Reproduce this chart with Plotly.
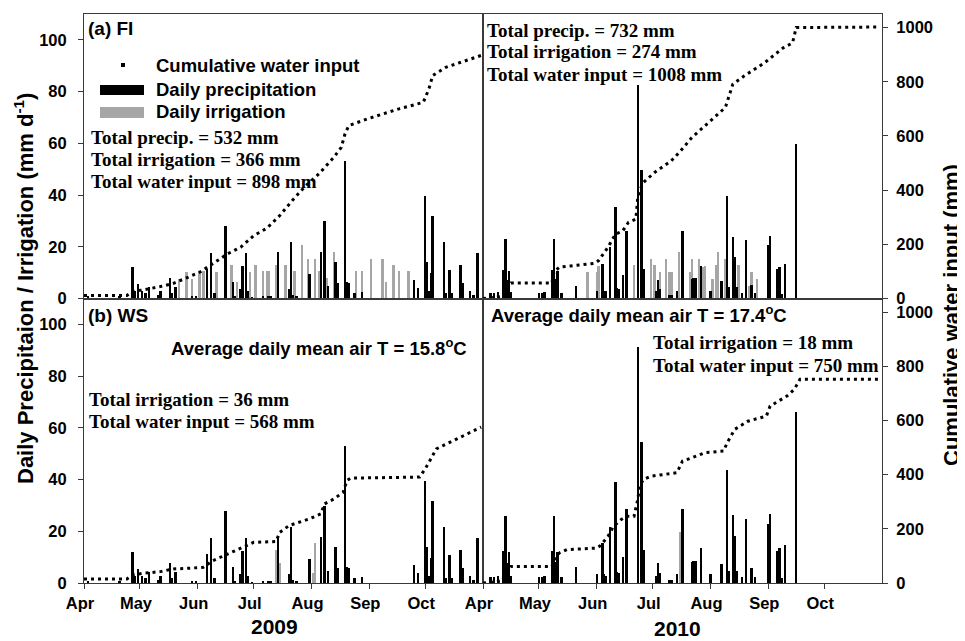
import plotly.graph_objects as go

# ---------------- data ----------------
precip_2009_dates = ["2009-04-03", "2009-04-20", "2009-04-27", "2009-04-28", "2009-04-30", "2009-05-02",
                     "2009-05-04", "2009-05-06", "2009-05-11", "2009-05-12", "2009-05-17", "2009-05-18",
                     "2009-05-20", "2009-05-29", "2009-05-31", "2009-06-06", "2009-06-08", "2009-06-10",
                     "2009-06-16", "2009-06-20", "2009-06-21", "2009-06-24", "2009-06-25", "2009-06-27",
                     "2009-06-28", "2009-06-30", "2009-07-06", "2009-07-09", "2009-07-10", "2009-07-14",
                     "2009-07-20", "2009-07-21", "2009-07-22", "2009-07-24", "2009-07-31", "2009-08-06",
                     "2009-08-08", "2009-08-10", "2009-08-14", "2009-08-15", "2009-08-19", "2009-08-20",
                     "2009-08-21", "2009-08-24", "2009-08-28", "2009-09-25", "2009-09-27", "2009-10-01",
                     "2009-10-02", "2009-10-03", "2009-10-04", "2009-10-05", "2009-10-11", "2009-10-12",
                     "2009-10-14", "2009-10-15", "2009-10-20", "2009-10-21", "2009-10-25", "2009-10-27",
                     "2009-10-29"]
precip_2009_mm = [1, 1, 12, 3, 5.5, 3,
                  2, 4.3, 1.5, 3, 8, 2,
                  4.3, 1, 1, 11.5, 17.5, 2,
                  28, 6.5, 1, 3.5, 12.5, 17.5,
                  3, 0.5, 1, 1, 1, 18,
                  3.5, 22, 1.5, 1, 9.5, 18,
                  30, 5, 14, 6, 53, 6.5,
                  6, 2.3, 2.5, 7, 4, 39.5,
                  14, 3, 10, 32, 22, 2,
                  11, 2, 12.8, 6, 3, 1.5,
                  17.5]

irr_fi_2009_dates = ["2009-05-22", "2009-05-26", "2009-05-29", "2009-06-02", "2009-06-04", "2009-06-11",
                     "2009-06-19", "2009-06-22", "2009-06-29", "2009-07-02", "2009-07-06", "2009-07-08",
                     "2009-07-09", "2009-07-13", "2009-07-18", "2009-07-23", "2009-07-27", "2009-07-30",
                     "2009-08-03", "2009-08-05", "2009-08-09", "2009-08-13", "2009-08-25", "2009-08-28",
                     "2009-09-02", "2009-09-08", "2009-09-10", "2009-09-14", "2009-09-17", "2009-09-22"]
irr_fi_2009_mm = [7.6, 10.2, 7.6, 10.2, 10.5, 10.2,
                  12.8, 6.3, 10.2, 12.8, 10.5, 10.5,
                  10.5, 12.8, 12.8, 10.5, 20.5, 15.4,
                  15.4, 10.5, 8, 18, 10.5, 10.5,
                  15.4, 15.4, 6.3, 12.8, 10.5, 10.5]

irr_ws_2009_dates = ["2009-07-13", "2009-07-15", "2009-08-02", "2009-08-03"]
irr_ws_2009_mm = [13, 8, 4, 15.5]

precip_2010_dates = ["2010-04-05", "2010-04-07", "2010-04-09", "2010-04-12", "2010-04-13", "2010-04-14",
                     "2010-04-15", "2010-04-16", "2010-05-01", "2010-05-03", "2010-05-04", "2010-05-08",
                     "2010-05-09", "2010-05-10", "2010-05-11", "2010-05-13", "2010-05-21", "2010-06-01",
                     "2010-06-04", "2010-06-05", "2010-06-06", "2010-06-08", "2010-06-11", "2010-06-12",
                     "2010-06-13", "2010-06-15", "2010-06-17", "2010-06-23", "2010-06-25", "2010-06-26",
                     "2010-07-03", "2010-07-04", "2010-07-05", "2010-07-10", "2010-07-11", "2010-07-14",
                     "2010-07-17", "2010-07-22", "2010-07-23", "2010-07-24", "2010-07-27", "2010-08-01",
                     "2010-08-07", "2010-08-10", "2010-08-11", "2010-08-13", "2010-08-14", "2010-08-15",
                     "2010-08-18", "2010-08-20", "2010-08-23", "2010-08-25", "2010-09-01", "2010-09-02",
                     "2010-09-06", "2010-09-07", "2010-09-08", "2010-09-10", "2010-09-16"]
precip_fi_2010_mm = [2, 2, 2.5, 11, 23, 7,
                     10.7, 2.5, 2, 2, 2.5, 11,
                     23, 7.5, 10.5, 2, 4.9, 3,
                     13.5, 3, 2.8, 20, 35.3, 4,
                     3.5, 9, 26.2, 82.4, 49.5, 11.5,
                     2.8, 7, 3.5, 1.3, 1.3, 3,
                     26.2, 7.5, 7.8, 7.8, 12.5, 3,
                     6.6, 39.8, 4.5, 23.6, 16.2, 4.5,
                     2.2, 22.5, 5.3, 2.2, 20.8, 24.2,
                     11.3, 12.3, 1.8, 13.3, 59.8]
precip_ws_2010_mm = [2.5, 2.5, 3, 12.5, 26, 8,
                     12, 3, 2.5, 2.5, 3, 12.5,
                     26, 8.5, 12, 2.5, 6.3, 3.5,
                     15.5, 3.5, 3, 22, 39.3, 4.5,
                     4, 10.3, 29, 91.5, 54.8, 12.9,
                     3, 8, 4, 1.5, 1.5, 3.5,
                     29, 8.4, 8.7, 8.7, 13.9, 3.5,
                     7.4, 44, 5, 26.4, 18.3, 5,
                     2.5, 24.8, 6, 2.5, 22.9, 26.8,
                     12.6, 13.9, 2, 14.8, 66.4]

irr_fi_2010_dates = ["2010-05-27", "2010-06-01", "2010-06-02", "2010-06-21", "2010-06-30", "2010-07-02",
                     "2010-07-05", "2010-07-08", "2010-07-10", "2010-07-11", "2010-07-15", "2010-07-21",
                     "2010-07-22", "2010-07-26", "2010-07-28", "2010-07-29", "2010-08-02", "2010-08-04",
                     "2010-08-05", "2010-08-09", "2010-08-16", "2010-08-22", "2010-08-23", "2010-08-26"]
irr_fi_2010_mm = [10.3, 10.3, 12.5, 12.8, 15.4, 12.8,
                  10.3, 15.4, 10.3, 10.3, 18, 10.3,
                  15.4, 15.4, 12, 12.7, 7.7, 12.8,
                  18, 15.4, 12.8, 5, 10.3, 7.7]

irr_ws_2010_dates = ["2010-07-16"]
irr_ws_2010_mm = [20]

cum_fi_2009_dates = ["2009-04-01", "2009-04-24", "2009-04-27", "2009-05-03", "2009-05-12", "2009-05-19",
                     "2009-05-26", "2009-06-02", "2009-06-09", "2009-06-17", "2009-06-24", "2009-07-01",
                     "2009-07-08", "2009-07-15", "2009-07-22", "2009-07-29", "2009-08-05", "2009-08-13",
                     "2009-08-17", "2009-08-19", "2009-08-21", "2009-08-31", "2009-09-17", "2009-09-30",
                     "2009-10-03", "2009-10-05", "2009-10-12", "2009-10-23", "2009-10-31"]
cum_fi_2009_mm = [11, 11, 26, 32, 44, 56,
                  76, 97, 128, 165, 189, 232,
                  259, 306, 364, 417, 460, 521,
                  558, 608, 638, 663, 700, 724,
                  774, 823, 853, 878, 897]

cum_ws_2009_dates = ["2009-04-01", "2009-04-24", "2009-04-27", "2009-05-03", "2009-05-12", "2009-05-19",
                     "2009-05-26", "2009-06-04", "2009-06-09", "2009-06-17", "2009-06-20", "2009-06-27",
                     "2009-07-01", "2009-07-13", "2009-07-15", "2009-07-20", "2009-07-31", "2009-08-06",
                     "2009-08-08", "2009-08-13", "2009-08-18", "2009-08-20", "2009-08-22", "2009-09-28",
                     "2009-10-01", "2009-10-04", "2009-10-07", "2009-10-18", "2009-10-31"]
cum_ws_2009_mm = [15, 15, 30, 36, 42, 52,
                  54, 58, 82, 107, 116, 138,
                  150, 153, 187, 212, 237, 255,
                  292, 310, 335, 378, 387, 391,
                  421, 458, 495, 532, 575]

cum_fi_2010_dates = ["2010-04-01", "2010-04-11", "2010-04-16", "2010-05-08", "2010-05-09", "2010-05-12",
                     "2010-05-18", "2010-05-31", "2010-06-02", "2010-06-07", "2010-06-11", "2010-06-15",
                     "2010-06-18", "2010-06-22", "2010-06-23", "2010-06-24", "2010-06-26", "2010-07-02",
                     "2010-07-11", "2010-07-16", "2010-07-22", "2010-07-29", "2010-08-05", "2010-08-09",
                     "2010-08-13", "2010-08-19", "2010-08-30", "2010-09-09", "2010-09-14", "2010-09-16",
                     "2010-10-31"]
cum_fi_2010_mm = [0, 7, 57, 57, 97, 116,
                  120, 130, 140, 189, 237, 250,
                  281, 293, 373, 398, 428, 465,
                  508, 545, 594, 637, 680, 705,
                  791, 821, 870, 925, 943, 1000,
                  1002]

cum_ws_2010_dates = ["2010-04-01", "2010-04-11", "2010-04-16", "2010-05-08", "2010-05-10", "2010-05-12",
                     "2010-05-16", "2010-06-01", "2010-06-03", "2010-06-07", "2010-06-10", "2010-06-14",
                     "2010-06-17", "2010-06-21", "2010-06-23", "2010-06-24", "2010-06-26", "2010-06-30",
                     "2010-07-14", "2010-07-17", "2010-07-22", "2010-07-29", "2010-08-08", "2010-08-10",
                     "2010-08-14", "2010-08-21", "2010-08-31", "2010-09-02", "2010-09-11", "2010-09-15",
                     "2010-09-18", "2010-10-31"]
cum_ws_2010_mm = [0, 7, 61, 61, 98, 111,
                  123, 129, 138, 172, 209, 234,
                  246, 246, 308, 357, 382, 394,
                  407, 450, 462, 481, 487, 518,
                  567, 597, 616, 653, 690, 715,
                  752, 752]

month_labels = ["Apr", "May", "Jun", "Jul", "Aug", "Sep", "Oct"]
month_ticks_2009 = ["2009-04-01", "2009-05-01", "2009-06-01", "2009-07-01", "2009-08-01", "2009-09-01", "2009-10-01"]
month_ticks_2010 = ["2010-04-01", "2010-05-01", "2010-06-01", "2010-07-01", "2010-08-01", "2010-09-01", "2010-10-01"]
daily_ticks = [0, 20, 40, 60, 80, 100]
cum_ticks = [0, 200, 400, 600, 800, 1000]

# ---------------- styling ----------------
PAGE_OFF = 8                     # default body margin of the html page
W, H = 965 - PAGE_OFF, 641 - PAGE_OFF
L, R, T, B = 84 - PAGE_OFF, 83, 14 - PAGE_OFF, 58
PW, PH = W - L - R, H - T - B
SANS = "Liberation Sans"
SERIF = "Liberation Serif"
GRAY = "#a6a6a6"
LINE = "#3a3a3a"
DAY_MS = 86400000
BAR_W = 1.3 * DAY_MS


def xp(px):
    # px measured in window pixels
    return (px - PAGE_OFF - L) / PW


def yp(py):
    return (H - B - (py - PAGE_OFF)) / PH


fig = go.Figure()

panels = [
    ("x", "y", "y2", precip_2009_dates, precip_2009_mm, irr_fi_2009_dates, irr_fi_2009_mm, cum_fi_2009_dates, cum_fi_2009_mm),
    ("x2", "y3", "y4", precip_2010_dates, precip_fi_2010_mm, irr_fi_2010_dates, irr_fi_2010_mm, cum_fi_2010_dates, cum_fi_2010_mm),
    ("x3", "y5", "y6", precip_2009_dates, precip_2009_mm, irr_ws_2009_dates, irr_ws_2009_mm, cum_ws_2009_dates, cum_ws_2009_mm),
    ("x4", "y7", "y8", precip_2010_dates, precip_ws_2010_mm, irr_ws_2010_dates, irr_ws_2010_mm, cum_ws_2010_dates, cum_ws_2010_mm),
]

for xa, ya, yc, pd_, pv, idt, iv, cd, cv in panels:
    fig.add_trace(go.Bar(x=idt, y=iv, xaxis=xa, yaxis=ya, width=BAR_W,
                         marker=dict(color=GRAY, line=dict(width=0)), showlegend=False,
                         name="Daily irrigation"))
    fig.add_trace(go.Bar(x=pd_, y=pv, xaxis=xa, yaxis=ya, width=BAR_W,
                         marker=dict(color="black", line=dict(width=0)), showlegend=False,
                         name="Daily precipitation"))
    fig.add_trace(go.Scatter(x=cd, y=cv, xaxis=xa, yaxis=yc, mode="lines",
                             line=dict(color="black", width=3, dash="3px,4px"),
                             showlegend=False, name="Cumulative water input"))

tickfont = dict(family=SANS, size=16.5, color="black", weight="bold")

common_x = dict(type="date", showgrid=False, zeroline=False, showline=True, mirror=True,
                linecolor=LINE, linewidth=1, tickfont=tickfont)
fig.update_layout(
    xaxis=dict(common_x, domain=[0, 0.5], anchor="y", range=["2009-04-01", "2009-11-01"],
               ticks="", showticklabels=False),
    xaxis2=dict(common_x, domain=[0.5, 1], anchor="y3", range=["2010-04-01", "2010-11-01"],
                ticks="", showticklabels=False),
    xaxis3=dict(common_x, domain=[0, 0.5], anchor="y5", range=["2009-04-01", "2009-11-01"],
                ticks="outside", ticklen=5, tickcolor=LINE, tickvals=month_ticks_2009,
                ticktext=month_labels, ticklabelshift=-4, ticklabelstandoff=0),
    xaxis4=dict(common_x, domain=[0.5, 1], anchor="y7", range=["2010-04-01", "2010-11-01"],
                ticks="outside", ticklen=5, tickcolor=LINE, tickvals=month_ticks_2010,
                ticktext=month_labels, ticklabelshift=-4, ticklabelstandoff=0),
)

daily_range = [0, 110]
cum_range = [0, 1050]
for name, dom, anchor, show in [("yaxis", [0.5, 1], "x", True), ("yaxis3", [0.5, 1], "x2", False),
                                ("yaxis5", [0, 0.5], "x3", True), ("yaxis7", [0, 0.5], "x4", False)]:
    fig.layout[name] = dict(domain=dom, anchor=anchor, range=daily_range, showgrid=False, zeroline=False,
                            showline=True, mirror=True, linecolor=LINE, linewidth=1,
                            tickvals=daily_ticks, ticks="outside" if show else "", ticklen=5,
                            tickcolor=LINE, showticklabels=show, tickfont=tickfont,
                            ticklabelstandoff=8)
for name, over, anchor, show in [("yaxis2", "y", "x", False), ("yaxis4", "y3", "x2", True),
                                 ("yaxis6", "y5", "x3", False), ("yaxis8", "y7", "x4", True)]:
    fig.layout[name] = dict(overlaying=over, anchor=anchor, side="right", range=cum_range,
                            showgrid=False, zeroline=False, showline=False,
                            tickvals=cum_ticks, ticks="outside" if show else "", ticklen=5,
                            tickcolor=LINE, showticklabels=show, tickfont=tickfont,
                            ticklabelstandoff=5)

annotations = []


def ann(text, px, py, size, family=SANS, xanchor="left", angle=0):
    annotations.append(dict(text=text, x=xp(px), y=yp(py), xref="paper", yref="paper",
                            xanchor=xanchor, yanchor="middle", showarrow=False, textangle=angle,
                            font=dict(family=family, size=size, color="black", weight="bold")))


ann("(a) FI", 86, 28, 19)
ann("(b) WS", 86, 315, 19)
ann("Cumulative water input", 154, 65, 18.5)
ann("Daily precipitation", 154, 89, 18.5)
ann("Daily irrigation", 154, 112, 18.5)
ann("Total precip. = 532 mm", 89, 137, 19, SERIF)
ann("Total irrigation = 366 mm", 89, 159, 19, SERIF)
ann("Total water input = 898 mm", 89, 181, 19, SERIF)
ann("Total precip. = 732 mm", 485, 30, 19, SERIF)
ann("Total irrigation = 274 mm", 485, 52, 19, SERIF)
ann("Total water input = 1008 mm", 485, 74, 19, SERIF)
ann("Average daily mean air T = 15.8<sup>o</sup>C", 169, 347, 18.5)
ann("Total irrigation = 36 mm", 87, 399, 19, SERIF)
ann("Total water input = 568 mm", 87, 421, 19, SERIF)
ann("Average daily mean air T = 17.4<sup>o</sup>C", 489, 314, 18.5)
ann("Total irrigation = 18 mm", 651, 343, 19, SERIF)
ann("Total water input = 750 mm", 651, 365, 19, SERIF)
ann("2009", 274, 627, 21, xanchor="center")
ann("2010", 677, 628, 21, xanchor="center")
ann("Daily Precipitaion / Irrigation (mm d<sup>-1</sup>)", 24, 289, 22, xanchor="center", angle=-90)
ann("Cumulative water input (mm)", 951, 315, 22, xanchor="center", angle=-90)

shapes = [
    dict(type="rect", xref="paper", yref="paper", x0=xp(121), x1=xp(125), y0=yp(67), y1=yp(63),
         fillcolor="black", line=dict(width=0)),
    dict(type="rect", xref="paper", yref="paper", x0=xp(100), x1=xp(144), y0=yp(95), y1=yp(85),
         fillcolor="black", line=dict(width=0)),
    dict(type="rect", xref="paper", yref="paper", x0=xp(100), x1=xp(144), y0=yp(118), y1=yp(107),
         fillcolor=GRAY, line=dict(width=0)),
]

fig.update_layout(
    width=W, height=H, margin=dict(l=L, r=R, t=T, b=B, autoexpand=False),
    paper_bgcolor="white", plot_bgcolor="white",
    barmode="overlay", bargap=0, showlegend=False,
    annotations=annotations, shapes=shapes,
    font=dict(family=SANS, color="black"),
)

fig.write_html("out.html")
